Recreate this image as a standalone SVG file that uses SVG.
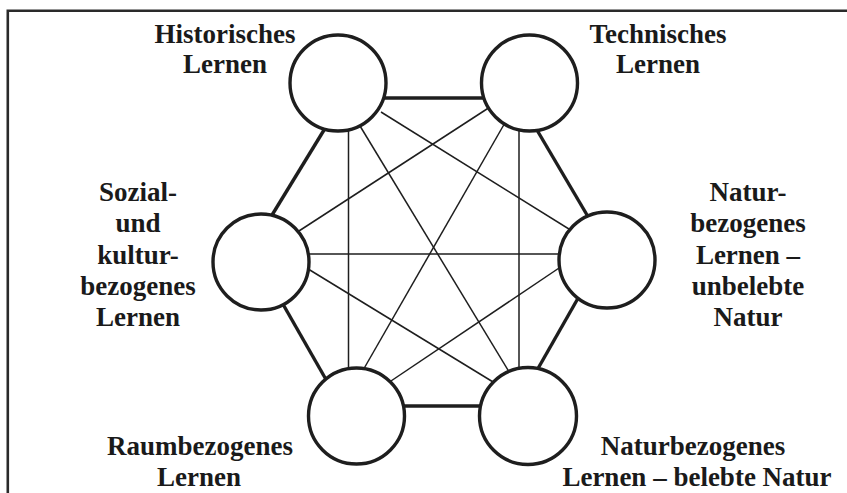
<svg xmlns="http://www.w3.org/2000/svg" width="847" height="493" viewBox="0 0 847 493">
  <style>
    .frame { stroke: #2a2a2a; stroke-width: 2.6; fill: none; }
    .edge-outer { stroke: #1e1e1e; stroke-width: 3.4; fill: none; }
    .edge-inner { stroke: #1e1e1e; stroke-width: 1.5; fill: none; }
    .node { fill: #ffffff; stroke: #1e1e1e; stroke-width: 3.4; }
    .label { font-family: "Liberation Serif", "Times New Roman", serif; font-weight: bold; font-size: 27px; fill: #1a1a1a; text-anchor: middle; }
  </style>
  <rect width="847" height="493" fill="#ffffff"/>

  <!-- frame: top and left rules -->
  <path class="frame" d="M7.8 493 V10.7 H847"/>

  <g id="connectors">
    <!-- hexagon outline -->
    <line class="edge-outer" x1="370" y1="98" x2="500" y2="98"/>
    <line class="edge-outer" x1="328" y1="123.5" x2="269" y2="220"/>
    <line class="edge-outer" x1="534" y1="125" x2="590" y2="220"/>
    <line class="edge-outer" x1="280" y1="299" x2="328" y2="383"/>
    <line class="edge-outer" x1="581" y1="293" x2="536" y2="372"/>
    <line class="edge-outer" x1="395" y1="406" x2="490" y2="406"/>
    <!-- cross links -->
    <line class="edge-inner" x1="348.5" y1="125" x2="348.5" y2="372"/>
    <line class="edge-inner" x1="519" y1="125" x2="519" y2="372"/>
    <line class="edge-inner" x1="357" y1="121" x2="511" y2="375"/>
    <line class="edge-inner" x1="381" y1="112" x2="585" y2="239"/>
    <line class="edge-inner" x1="490" y1="107" x2="282" y2="242"/>
    <line class="edge-inner" x1="506" y1="121" x2="362" y2="372"/>
    <line class="edge-inner" x1="300" y1="254" x2="570" y2="254"/>
    <line class="edge-inner" x1="300" y1="264" x2="498" y2="385"/>
    <line class="edge-inner" x1="565" y1="264" x2="385" y2="385"/>
  </g>

  <g id="historisches">
    <circle class="node" cx="338" cy="83" r="48"/>
    <text class="label" x="225" y="43">Historisches</text>
    <text class="label" x="225" y="73">Lernen</text>
  </g>

  <g id="technisches">
    <circle class="node" cx="529.5" cy="83" r="48"/>
    <text class="label" x="658" y="43">Technisches</text>
    <text class="label" x="658" y="73">Lernen</text>
  </g>

  <g id="sozial-kultur">
    <circle class="node" cx="261" cy="262" r="48"/>
    <text class="label" x="138" y="201">Sozial-</text>
    <text class="label" x="138" y="232">und</text>
    <text class="label" x="138" y="264">kultur-</text>
    <text class="label" x="138" y="295">bezogenes</text>
    <text class="label" x="138" y="326">Lernen</text>
  </g>

  <g id="unbelebte-natur">
    <circle class="node" cx="607" cy="260" r="48"/>
    <text class="label" x="748" y="201">Natur-</text>
    <text class="label" x="748" y="232">bezogenes</text>
    <text class="label" x="748" y="264">Lernen –</text>
    <text class="label" x="748" y="295">unbelebte</text>
    <text class="label" x="748" y="326">Natur</text>
  </g>

  <g id="raumbezogen">
    <circle class="node" cx="356.5" cy="416" r="48"/>
    <text class="label" x="200" y="455">Raumbezogenes</text>
    <text class="label" x="199" y="486">Lernen</text>
  </g>

  <g id="belebte-natur">
    <circle class="node" cx="528" cy="416" r="48.5"/>
    <text class="label" x="693" y="455">Naturbezogenes</text>
    <text class="label" x="697" y="486">Lernen – belebte Natur</text>
  </g>
</svg>
